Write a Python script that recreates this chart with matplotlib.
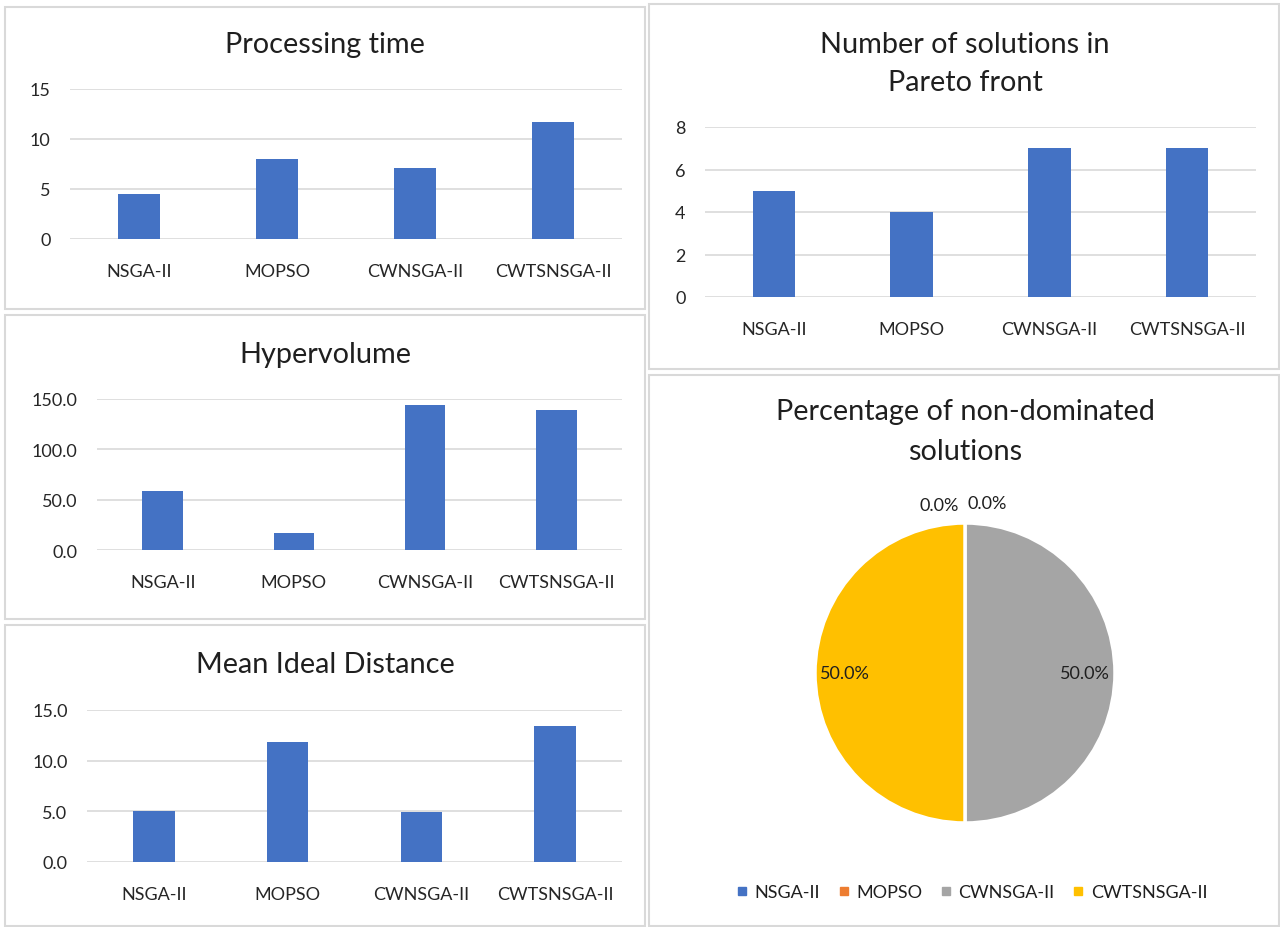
import matplotlib
matplotlib.use("Agg")
import matplotlib.pyplot as plt
from matplotlib.patches import Rectangle
from matplotlib.lines import Line2D

plt.rcParams['font.family'] = ['Lato', 'DejaVu Sans']

algorithms = ["NSGA-II", "MOPSO", "CWNSGA-II", "CWTSNSGA-II"]
processing_time = [4.5, 8.0, 7.1, 11.7]
n_solutions = [5, 4, 7, 7]
hypervolume = [58.4, 16.6, 144.0, 139.1]
mean_ideal_distance = [5.0, 11.8, 4.9, 13.4]
pct_nondominated = [0.0, 0.0, 50.0, 50.0]

BLUE = '#4472C4'
pie_colors = ['#4472C4', '#ED7D31', '#A5A5A5', '#FFC000']
GRID = '#d9d9d9'
TXT = '#1f1f1f'
TICK = '#262626'
TITLE_FS = 20.8
TICK_FS = 13

W, H = 1280, 928
fig = plt.figure(figsize=(12.8, 9.28), dpi=100)
fig.patch.set_facecolor('white')

def px_rect(x0, y0, x1, y1):
    return [x0 / W, 1 - y1 / H, (x1 - x0) / W, (y1 - y0) / H]

# panel borders
panels = [(5, 8, 645, 310), (649, 5, 1279, 370), (5, 316, 645, 620),
          (5, 626, 645, 927), (649, 376, 1279, 927)]
for (x0, y0, x1, y1) in panels:
    fig.patches.append(Rectangle((x0 / W, 1 - y1 / H), (x1 - x0) / W, (y1 - y0) / H,
                                 transform=fig.transFigure, facecolor='none',
                                 edgecolor=GRID, lw=1.5, zorder=0))

def bar_panel(rect, values, ymax, step, fmt, title_lines, title_x, title_y):
    ax = fig.add_axes(px_rect(*rect))
    x = list(range(len(algorithms)))
    ax.bar(x, values, width=0.31, color=BLUE, zorder=3)
    ax.set_xlim(-0.5, len(algorithms) - 0.5)
    ax.set_ylim(0, ymax)
    ticks = [i * step for i in range(int(round(ymax / step)) + 1)]
    ax.set_yticks(ticks)
    ax.set_yticklabels([fmt.format(t) for t in ticks])
    ax.set_xticks(x)
    ax.set_xticklabels(algorithms)
    for s in ax.spines.values():
        s.set_visible(False)
    ax.yaxis.grid(True, color=GRID, lw=1.2, zorder=0)
    ax.set_axisbelow(True)
    ax.tick_params(axis='both', length=0, labelsize=TICK_FS, colors=TICK)
    ax.tick_params(axis='x', pad=17)
    ax.tick_params(axis='y', pad=14)
    for i, line in enumerate(title_lines):
        fig.text(title_x / W, 1 - (title_y + i * 38) / H, line, ha='center', va='center',
                 fontsize=TITLE_FS, color=TXT)
    return ax

bar_panel((70, 90, 622, 240), processing_time, 15, 5, "{:.0f}",
          ["Processing time"], 325, 45)
bar_panel((705, 128, 1256, 298), n_solutions, 8, 2, "{:.0f}",
          ["Number of solutions in", "Pareto front"], 965, 45)
bar_panel((97, 400, 622, 551), hypervolume, 150, 50, "{:.1f}",
          ["Hypervolume"], 325, 355)
bar_panel((87, 711, 622, 863), mean_ideal_distance, 15, 5, "{:.1f}",
          ["Mean Ideal Distance"], 325, 665)

# pie
cx, cy, r = 965, 674, 150
half = 1.5 * r
ax_p = fig.add_axes(px_rect(cx - half, cy - half, cx + half, cy + half))
wedges, texts, autotexts = ax_p.pie(
    pct_nondominated, colors=pie_colors, startangle=90, counterclock=False,
    autopct='%1.1f%%', pctdistance=0.8,
    wedgeprops=dict(edgecolor='white', linewidth=2.5),
    textprops=dict(fontsize=TICK_FS, color=TXT))
ax_p.set_xlim(-1.5, 1.5)
ax_p.set_ylim(-1.5, 1.5)
ax_p.set_aspect('equal')
ax_p.axis('off')
zero_offsets = [-0.17, 0.15]
k = 0
for v, t in zip(pct_nondominated, autotexts):
    if v == 0:
        t.set_position((zero_offsets[k], 1.12 + (0.01 if k == 1 else 0)))
        t.set_ha('center')
        k += 1

fig.text(965 / W, 1 - 412 / H, "Percentage of non-dominated", ha='center', va='center',
         fontsize=TITLE_FS, color=TXT)
fig.text(965 / W, 1 - 452 / H, "solutions", ha='center', va='center',
         fontsize=TITLE_FS, color=TXT)

handles = [Line2D([], [], marker='s', linestyle='', color=c, markersize=6) for c in pie_colors]
fig.legend(handles, algorithms, loc='center', bbox_to_anchor=(970 / W, 1 - 893 / H),
           ncol=4, frameon=False, fontsize=TICK_FS, handletextpad=0.2, columnspacing=0.8,
           handlelength=1.0, labelcolor=TXT)

fig.savefig("out.png", dpi=100, facecolor='white')
